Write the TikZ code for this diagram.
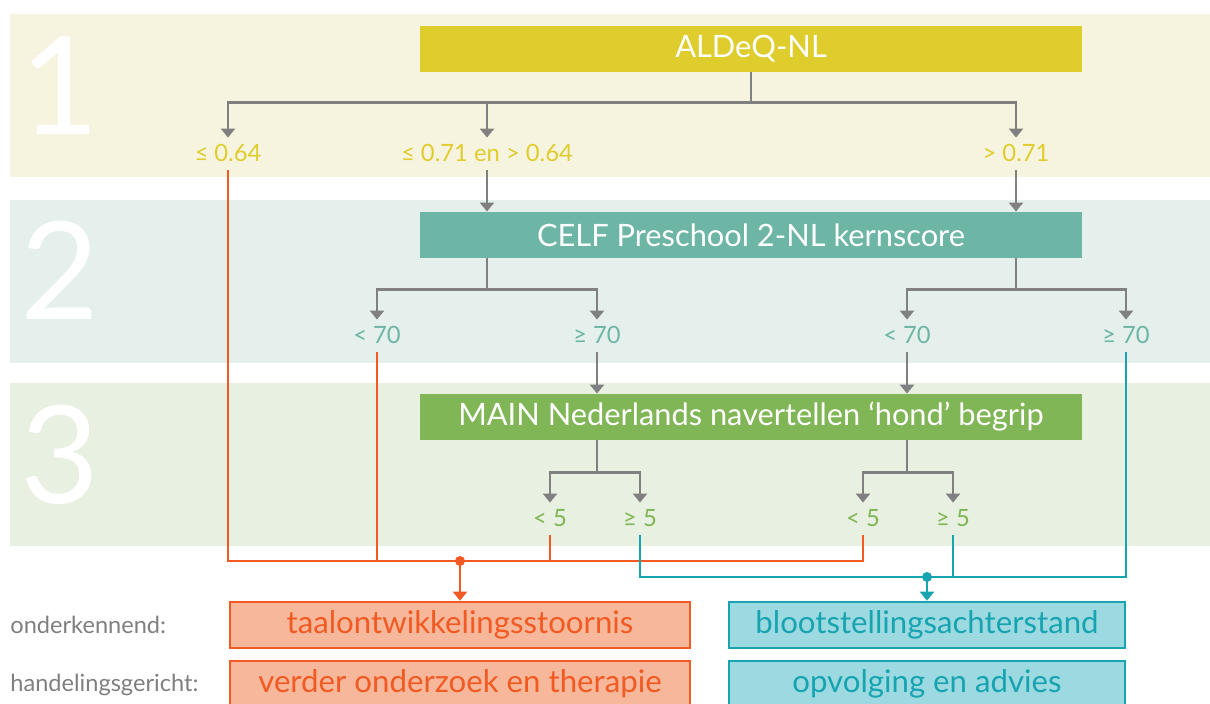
\documentclass[tikz,border=0pt]{standalone}
\usepackage{fontspec}
\setmainfont{Lato}
\usetikzlibrary{arrows.meta, positioning, calc}

\definecolor{bandone}{HTML}{F6F4DF}
\definecolor{bandtwo}{HTML}{E5F0EC}
\definecolor{bandthree}{HTML}{E8F0E1}
\definecolor{aldeqcol}{HTML}{DFCC2D}
\definecolor{celfcol}{HTML}{6DB5A4}
\definecolor{maincol}{HTML}{80B655}
\definecolor{treegray}{HTML}{808080}
\definecolor{orangeline}{HTML}{F15A22}
\definecolor{orangefill}{HTML}{F7B79A}
\definecolor{tealline}{HTML}{17A4B1}
\definecolor{tealfill}{HTML}{9DD9E0}
\definecolor{rowgray}{HTML}{7F7F7F}

\tikzset{
  testbox/.style={minimum width=331pt, minimum height=23pt, inner sep=0pt,
    text=white, font=\fontsize{15.4}{18}\selectfont},
  outbox/.style={draw, line width=1.3pt, minimum width=230pt, minimum height=23pt,
    inner sep=0pt, font=\fontsize{15.6}{18}\selectfont},
  cut/.style={inner xsep=0pt, inner ysep=4pt, text height=8pt, text depth=0pt,
    font=\fontsize{11.9}{14}\selectfont},
  bandnum/.style={text=white, font=\fontsize{68}{70}\selectfont, inner sep=0pt},
  rowlab/.style={anchor=west, inner sep=0pt, text=rowgray, font=\fontsize{11.8}{14}\selectfont},
  treeline/.style={treegray, line width=1.3pt},
  treearrow/.style={treeline, -{Triangle[width=7pt,length=4.5pt]}},
  oline/.style={orangeline, line width=1.2pt},
  tline/.style={tealline, line width=1.2pt},
}

\begin{document}
\begin{tikzpicture}[x=0.5pt,y=-0.5pt]
\useasboundingbox (0,0) rectangle (1210,704);

% bands
\fill[bandone] (10,14) rectangle (1210,177);
\fill[bandtwo] (10,200) rectangle (1210,363);
\fill[bandthree] (10,383) rectangle (1210,546);
\node[bandnum] (n1) at (60,86) {1};
\node[bandnum] (n2) at (60,270) {2};
\node[bandnum] (n3) at (60,455) {3};

% test boxes
\node[testbox, fill=aldeqcol] (aldeq) at (751,49) {ALDeQ-NL};
\node[testbox, fill=celfcol] (celf) at (751,235) {CELF Preschool 2-NL kernscore};
\node[testbox, fill=maincol] (mainnl) at (751,417) {MAIN Nederlands navertellen ‘hond’ begrip};

% cut-off labels
\node[cut, text=aldeqcol] (l1a) at (228,154) {≤ 0.64};
\node[cut, text=aldeqcol] (l1b) at (487,154) {≤ 0.71 en > 0.64};
\node[cut, text=aldeqcol] (l1c) at (1016,154) {> 0.71};
\node[cut, text=celfcol] (l2a) at (377,336) {< 70};
\node[cut, text=celfcol] (l2b) at (597,336) {≥ 70};
\node[cut, text=celfcol] (l2c) at (907,336) {< 70};
\node[cut, text=celfcol] (l2d) at (1126,336) {≥ 70};
\node[cut, text=maincol] (l3a) at (550,519) {< 5};
\node[cut, text=maincol] (l3b) at (640,519) {≥ 5};
\node[cut, text=maincol] (l3c) at (863,519) {< 5};
\node[cut, text=maincol] (l3d) at (953,519) {≥ 5};

% outcome boxes
\node[rowlab] (onderk) at (10,625) {onderkennend:};
\node[rowlab] (handel) at (10,685) {handelingsgericht:};
\node[outbox, draw=orangeline, fill=orangefill, text=orangeline] (tos) at (460,625) {taalontwikkelingsstoornis};
\node[outbox, draw=orangeline, fill=orangefill, text=orangeline] (therapie) at (460,684) {verder onderzoek en therapie};
\node[outbox, minimum width=198pt, draw=tealline, fill=tealfill, text=tealline] (bsa) at (927,625) {blootstellingsachterstand};
\node[outbox, minimum width=198pt, draw=tealline, fill=tealfill, text=tealline] (advies) at (927,684) {opvolging en advies};

% tree, step 1
\coordinate (s1) at ($(aldeq.south)+(0,30)$);
\draw[treeline] (aldeq.south) -- (s1);
\draw[treearrow] (s1) -| (l1a);
\draw[treearrow] (s1) -| (l1b);
\draw[treearrow] (s1) -| (l1c);
\draw[treearrow] (l1b) -- (l1b |- celf.north);
\draw[treearrow] (l1c) -- (l1c |- celf.north);

% tree, step 2
\coordinate (s2a) at ($(l1b |- celf.south)+(0,31)$);
\coordinate (s2b) at ($(l1c |- celf.south)+(0,31)$);
\draw[treeline] (l1b |- celf.south) -- (s2a);
\draw[treeline] (l1c |- celf.south) -- (s2b);
\draw[treearrow] (s2a) -| (l2a);
\draw[treearrow] (s2a) -| (l2b);
\draw[treearrow] (s2b) -| (l2c);
\draw[treearrow] (s2b) -| (l2d);
\draw[treearrow] (l2b) -- (l2b |- mainnl.north);
\draw[treearrow] (l2c) -- (l2c |- mainnl.north);

% tree, step 3
\coordinate (s3a) at ($(l2b |- mainnl.south)+(0,32)$);
\coordinate (s3b) at ($(l2c |- mainnl.south)+(0,32)$);
\draw[treeline] (l2b |- mainnl.south) -- (s3a);
\draw[treeline] (l2c |- mainnl.south) -- (s3b);
\draw[treearrow] (s3a) -| (l3a);
\draw[treearrow] (s3a) -| (l3b);
\draw[treearrow] (s3b) -| (l3c);
\draw[treearrow] (s3b) -| (l3d);

% to taalontwikkelingsstoornis
\coordinate (ojoin) at (460,561);
\draw[oline] (l1a.south) |- (ojoin);
\draw[oline] (l3c.south) |- (ojoin);
\draw[oline] (l2a.south) -- (l2a.south |- ojoin);
\draw[oline] (l3a.south) -- (l3a.south |- ojoin);
\fill[orangeline] (ojoin) circle (2.5pt);
\draw[oline, -{Triangle[width=7pt,length=4.5pt]}] (ojoin) -- (tos.north);

% to blootstellingsachterstand
\coordinate (tjoin) at (927,577);
\draw[tline] (l3b.south) |- (tjoin);
\draw[tline] (l2d.south) |- (tjoin);
\draw[tline] (l3d.south) -- (l3d.south |- tjoin);
\fill[tealline] (tjoin) circle (2.5pt);
\draw[tline, -{Triangle[width=7pt,length=4.5pt]}] (tjoin) -- (bsa.north);
\end{tikzpicture}
\end{document}
